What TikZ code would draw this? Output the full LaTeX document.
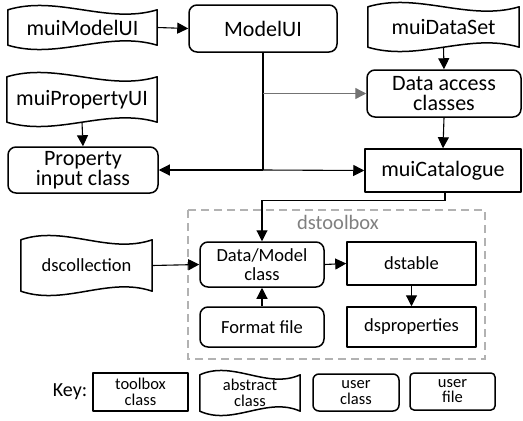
\documentclass[tikz,border=0pt]{standalone}
\usepackage{fontspec}
\setmainfont{Carlito}
\usetikzlibrary{arrows.meta,calc}
\newcommand\wamp{15}
\newcommand\wavyborder[1]{%
  \draw[shapeline] (#1.north west)
    .. controls ($(#1.north west)!0.333!(#1.north east)+(0,-\wamp)$) and ($(#1.north west)!0.667!(#1.north east)+(0,\wamp)$) .. (#1.north east)
    -- (#1.south east)
    .. controls ($(#1.south west)!0.667!(#1.south east)+(0,-\wamp)$) and ($(#1.south west)!0.333!(#1.south east)+(0,\wamp)$) .. (#1.south west)
    -- cycle;}
\tikzset{
  shapeline/.style={line width=1.5pt, draw=black, line join=round},
  basenode/.style={inner sep=0pt, align=center},
  bigtext/.style={font=\fontsize{22}{20}\selectfont},
  smalltext/.style={font=\fontsize{18.5}{18.5}\selectfont},
  keytext/.style={font=\fontsize{16.5}{16.5}\selectfont},
  roundbox/.style={basenode, shapeline, rounded corners=8pt},
  sharpbox/.style={basenode, shapeline},
  wavenode/.style={basenode},
  conn/.style={line width=1.1pt, -{Triangle[length=11pt,width=11pt]}},
  grayconn/.style={conn, draw=black!55, line width=1.4pt},
  plain/.style={line width=1.1pt},
}
\begin{document}
\begin{tikzpicture}[x=1pt,y=-1pt]
\useasboundingbox (0,0) rectangle (523,421);
% dashed toolbox frame
\draw[draw=black!30, line width=1.6pt, dash pattern=on 8pt off 5pt] (188,210) rectangle (485,359);
\node[basenode, text=black!50, font=\fontsize{20.5}{22}\selectfont] (dstlabel) at (338,222) {dstoolbox};

% top-level nodes
\node[wavenode, bigtext, minimum width=149pt, minimum height=35pt] (muiModelUI) at (82.5,27.5) {muiModelUI};
\wavyborder{muiModelUI}
\node[roundbox, bigtext, minimum width=148pt, minimum height=47pt] (ModelUI) at (263,28.5) {ModelUI};
\node[wavenode, bigtext, minimum width=151pt, minimum height=40pt] (muiDataSet) at (443.5,27) {muiDataSet};
\wavyborder{muiDataSet}
\node[wavenode, bigtext, minimum width=150pt, minimum height=45pt] (muiPropertyUI) at (82,99.5) {muiPropertyUI};
\wavyborder{muiPropertyUI}
\node[roundbox, bigtext, minimum width=154pt, minimum height=47pt] (DataAccess) at (444,93.5) {Data access\\classes};
\node[roundbox, bigtext, minimum width=150pt, minimum height=46pt] (PropInput) at (83,170) {Property\\input class};
\node[sharpbox, bigtext, minimum width=156pt, minimum height=43pt] (muiCatalogue) at (443,170.5) {muiCatalogue};

% toolbox nodes
\node[wavenode, smalltext, minimum width=131pt, minimum height=51pt] (dscollection) at (86.5,265.5) {dscollection};
\wavyborder{dscollection}
\node[roundbox, smalltext, minimum width=124pt, minimum height=45pt] (DataModel) at (262,264.5) {Data/Model\\class};
\node[roundbox, smalltext, minimum width=124pt, minimum height=40pt] (FormatFile) at (262,327) {Format file};
\node[sharpbox, smalltext, minimum width=129pt, minimum height=43pt] (dstable) at (411.5,263.5) {dstable};
\node[sharpbox, smalltext, minimum width=129pt, minimum height=40pt] (dsproperties) at (411.5,327) {dsproperties};

% key
\node[basenode, font=\fontsize{20}{22}\selectfont] (Key) at (70,392) {Key:};
\node[sharpbox, keytext, minimum width=95pt, minimum height=38pt] (keytool) at (140.5,392) {toolbox\\class};
\node[wavenode, keytext, minimum width=100pt, minimum height=36pt] (keyabs) at (250,393) {abstract\\class};
\wavyborder{keyabs}
\node[roundbox, keytext, rounded corners=6pt, minimum width=86pt, minimum height=37pt] (keyuser) at (356,392.5) {user\\class};
\node[roundbox, keytext, rounded corners=4pt, minimum width=85pt, minimum height=37pt] (keyfile) at (452.5,391.5) {\raisebox{2pt}{\begin{tabular}{@{}c@{}}user\\[-1pt]file\end{tabular}}};

% connectors
\draw[conn] (muiModelUI.east) -- (ModelUI.west);
\draw[conn] (muiDataSet.south) -- (DataAccess.north);
\draw[conn] (DataAccess.south) -- (muiCatalogue.north);
\draw[conn] (muiPropertyUI.south) -- (PropInput.north);
\coordinate (junctop) at (ModelUI.south |- DataAccess.west);
\coordinate (juncbot) at (ModelUI.south |- PropInput.east);
\draw[plain] (ModelUI.south) -- (juncbot);
\draw[grayconn] (junctop) -- (DataAccess.west);
\draw[conn] (juncbot) -- (PropInput.east);
\draw[conn] (juncbot) -- (muiCatalogue.west);
\draw[conn] ([xshift=2pt]muiCatalogue.south) -- ++(0,8) -| (DataModel.north);
\draw[conn] (dscollection.east) -- (DataModel.west);
\draw[conn] (DataModel.east) -- (dstable.west);
\draw[conn] (FormatFile.north) -- (DataModel.south);
\draw[conn] (dstable.south) -- (dsproperties.north);
\end{tikzpicture}
\end{document}
